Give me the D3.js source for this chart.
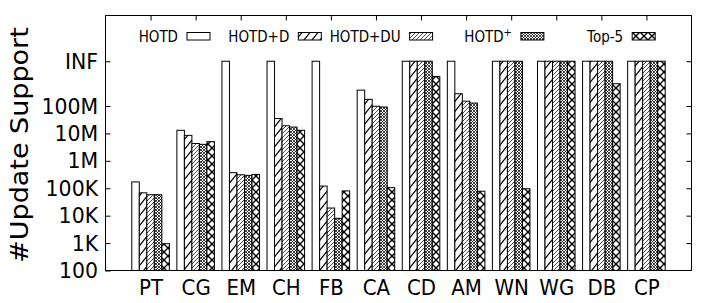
<!DOCTYPE html>
<html>
<head>
<meta charset="utf-8">
<script src="https://cdn.jsdelivr.net/npm/d3@7"></script>
<style>
body{margin:0;background:#fff}
svg{display:block;font-family:"DejaVu Sans",sans-serif}
</style>
</head>
<body>
<svg id="chart" width="706" height="303"></svg>
<script>
// INF is plotted as 2^32
const INF = 4294967296;
const categories = ["PT","CG","EM","CH","FB","CA","CD","AM","WN","WG","DB","CP"];
const hotd     = [170000, 1.3e7, INF, INF, INF, 3.8e8, INF, INF, INF, INF, INF, INF];
const hotdD    = [68000, 8.5e6, 370000, 3.5e7, 120000, 1.75e8, INF, 2.8e8, INF, INF, INF, INF];
const hotdDU   = [58000, 4.3e6, 310000, 1.9e7, 19000, 9.8e7, INF, 1.5e8, INF, INF, INF, INF];
const hotdPlus = [58000, 4.0e6, 295000, 1.7e7, 8000, 9.2e7, INF, 1.28e8, INF, INF, INF, INF];
const top5     = [950, 5.0e6, 320000, 1.3e7, 80000, 105000, 1.2e9, 78000, 96000, INF, 6.5e8, INF];
const seriesNames = ["HOTD","HOTD+D","HOTD+DU","HOTD+","Top-5"];
const yTicks = [100, 1e3, 1e4, 1e5, 1e6, 1e7, 1e8, INF];
const yTickLabels = ["100","1K","10K","100K","1M","10M","100M","INF"];

const series = [hotd, hotdD, hotdDU, hotdPlus, top5];
const fills = ["#fff","url(#pD)","url(#pDU)","url(#pPlus)","url(#pTop)"];

const L = 105.5, R = 691.5, T = 15.5, B = 270.5;
const squeeze = "scale(0.9,1)";

const svg = d3.select("#chart");

// fill patterns, roughly like gnuplot's
const defs = svg.append("defs");
function pat(id, w, h, d, sw){
  const p = defs.append("pattern").attr("id",id)
    .attr("patternUnits","userSpaceOnUse").attr("width",w).attr("height",h);
  p.append("rect").attr("width",w).attr("height",h).attr("fill","#fff");
  p.append("path").attr("d",d).attr("stroke","#000").attr("stroke-width",sw).attr("fill","none");
}
pat("pD", 8, 10, "M0,10L8,0M-2,2.5L2,-2.5M6,12.5L10,7.5", 1.2);
pat("pDU", 4, 4, "M0,4L4,0M-1,1L1,-1M3,5L5,3", 0.7);
pat("pPlus", 3, 3, "M0,0L3,3M3,0L0,3", 0.75);
pat("pTop", 8, 8, "M0,0L8,8M8,0L0,8", 1.4);

const x = d3.scaleLinear().domain([-1, 12]).range([L, R]);
const y = d3.scaleLog().domain([100, 2e11]).range([B, T]);
const bw = x(1/6) - x(0);

// bars
const barData = [];
categories.forEach((c, j) => {
  series.forEach((s, i) => barData.push({j: j, i: i, v: s[j]}));
});
svg.append("g").selectAll("rect").data(barData).enter().append("rect")
  .attr("x", d => x(d.j - 5/12 + d.i/6))
  .attr("y", d => y(d.v))
  .attr("width", bw)
  .attr("height", d => B - y(d.v))
  .attr("fill", d => fills[d.i])
  .attr("stroke", "#000")
  .attr("stroke-width", 1);

// left axis
const yAxis = svg.append("g").attr("transform", `translate(${L},0)`)
  .call(d3.axisLeft(y).tickValues(yTicks)
    .tickFormat((d, k) => yTickLabels[k])
    .tickSizeInner(-5).tickSizeOuter(0).tickPadding(8));
yAxis.select(".domain").remove();
yAxis.selectAll("text").attr("font-size", 22).attr("fill", "#000")
  .attr("font-family", "DejaVu Sans").attr("transform", "scale(0.93,1)");
yAxis.selectAll("line").attr("stroke", "#000");

// right mirror ticks
const yAxisR = svg.append("g").attr("transform", `translate(${R},0)`)
  .call(d3.axisRight(y).tickValues(yTicks.slice(1)).tickFormat("")
    .tickSizeInner(-5).tickSizeOuter(0));
yAxisR.select(".domain").remove();
yAxisR.selectAll("line").attr("stroke", "#000");

// top mirror ticks
const xAxisT = svg.append("g").attr("transform", `translate(0,${T})`)
  .call(d3.axisTop(x).tickValues(d3.range(categories.length)).tickFormat("")
    .tickSizeInner(-5).tickSizeOuter(0));
xAxisT.select(".domain").remove();
xAxisT.selectAll("line").attr("stroke", "#000");

// category labels
const xAxis = svg.append("g").attr("transform", `translate(0,${B})`)
  .call(d3.axisBottom(x).tickValues(d3.range(categories.length))
    .tickFormat(k => categories[k]).tickSize(0).tickPadding(9));
xAxis.select(".domain").remove();
xAxis.selectAll("text").attr("font-size", 22).attr("fill", "#000")
  .attr("font-family", "DejaVu Sans").attr("transform", squeeze);

// y title
svg.append("text")
  .attr("transform", "translate(28,145) " + squeeze + " rotate(-90)")
  .attr("text-anchor", "middle")
  .attr("font-size", 27)
  .text("#Update Support");

// legend
const lg = svg.append("g");
seriesNames.forEach((name, i) => {
  const sx = 187 + i * 111.3;
  lg.append("rect").attr("x", sx).attr("y", 32.5).attr("width", 23).attr("height", 7.5)
    .attr("fill", fills[i]).attr("stroke", "#000").attr("stroke-width", 1);
  const t = lg.append("text").attr("text-anchor", "end").attr("font-size", 15)
    .attr("transform", `translate(${sx - 9},41.5) ${squeeze}`);
  if (name === "HOTD+") {
    t.text("HOTD");
    t.append("tspan").attr("dy", -6).attr("font-size", 11).text("+");
  } else {
    t.text(name);
  }
});

// frame
svg.append("rect").attr("x", L).attr("y", T).attr("width", R - L).attr("height", B - T)
  .attr("fill", "none").attr("stroke", "#000").attr("stroke-width", 1);
</script>
</body>
</html>
